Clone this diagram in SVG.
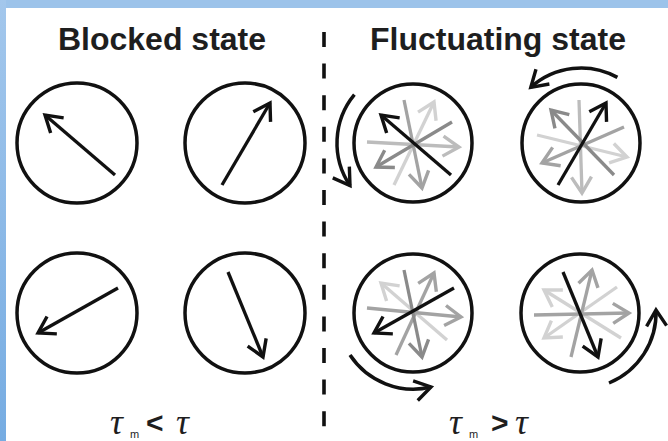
<svg xmlns="http://www.w3.org/2000/svg" width="668" height="441" viewBox="0 0 668 441">
  <defs>
    <linearGradient id="frameLeft" x1="0" y1="0" x2="0" y2="1">
      <stop offset="0" stop-color="#a3c7ec"/>
      <stop offset="1" stop-color="#76ace2"/>
    </linearGradient>
    <marker id="ah-k" viewBox="0 0 22 24" refX="18" refY="12" markerWidth="22" markerHeight="24" markerUnits="userSpaceOnUse" orient="auto" overflow="visible">
      <path d="M2,2 L18,12 L2,22" fill="none" stroke="#111" stroke-width="3.4"/>
    </marker>
    <marker id="ah-1" viewBox="0 0 22 24" refX="18" refY="12" markerWidth="22" markerHeight="24" markerUnits="userSpaceOnUse" orient="auto" overflow="visible">
      <path d="M2,2 L18,12 L2,22" fill="none" stroke="#8a8a8a" stroke-width="3.4"/>
    </marker>
    <marker id="ah-2" viewBox="0 0 22 24" refX="18" refY="12" markerWidth="22" markerHeight="24" markerUnits="userSpaceOnUse" orient="auto" overflow="visible">
      <path d="M2,2 L18,12 L2,22" fill="none" stroke="#a3a3a3" stroke-width="3.4"/>
    </marker>
    <marker id="ah-3" viewBox="0 0 22 24" refX="18" refY="12" markerWidth="22" markerHeight="24" markerUnits="userSpaceOnUse" orient="auto" overflow="visible">
      <path d="M2,2 L18,12 L2,22" fill="none" stroke="#bcbcbc" stroke-width="3.4"/>
    </marker>
    <marker id="ah-4" viewBox="0 0 22 24" refX="18" refY="12" markerWidth="22" markerHeight="24" markerUnits="userSpaceOnUse" orient="auto" overflow="visible">
      <path d="M2,2 L18,12 L2,22" fill="none" stroke="#d2d2d2" stroke-width="3.4"/>
    </marker>
  </defs>
  <style>
    .title { font-family: "Liberation Sans", Arial, sans-serif; font-weight: bold; font-size: 32px; fill: #1e1e1e; text-anchor: middle; }
    .tau { font-family: "Liberation Serif", "Times New Roman", serif; font-style: italic; font-size: 36px; fill: #1e1e1e; }
    .sub { font-family: "Liberation Sans", Arial, sans-serif; font-size: 11px; fill: #1e1e1e; }
    .rel { font-family: "Liberation Sans", Arial, sans-serif; font-weight: bold; font-size: 30px; fill: #1e1e1e; }
    .ring { fill: none; stroke: #111; stroke-width: 3.5; }
    .spin { fill: none; stroke-width: 3.3; }
    .k { stroke: #111; marker-end: url(#ah-k); }
    .g1 { stroke: #8a8a8a; marker-end: url(#ah-1); }
    .g2 { stroke: #a3a3a3; marker-end: url(#ah-2); }
    .g3 { stroke: #bcbcbc; marker-end: url(#ah-3); }
    .g4 { stroke: #d2d2d2; marker-end: url(#ah-4); }
    .rot { fill: none; stroke: #111; stroke-width: 3.5; marker-end: url(#ah-k); }
  </style>

  <!-- page background with blue frame on top and left -->
  <rect x="0" y="0" width="668" height="441" fill="#ffffff"/>
  <rect x="0" y="0" width="668" height="8" fill="#9cc3ea"/>
  <rect x="0" y="0" width="6" height="441" fill="url(#frameLeft)"/>

  <!-- headings -->
  <text class="title" x="162" y="50">Blocked state</text>
  <text class="title" x="498" y="50">Fluctuating state</text>

  <!-- separator -->
  <line x1="324" y1="32" x2="324" y2="441" stroke="#111" stroke-width="3.6" stroke-dasharray="15 16.6"/>

  <!-- blocked state: fixed moments -->
  <g id="blocked-1">
    <circle class="ring" cx="77" cy="143" r="60"/>
    <path class="spin k" d="M115,175 L45,115"/>
  </g>
  <g id="blocked-2">
    <circle class="ring" cx="245" cy="143" r="60"/>
    <path class="spin k" d="M222,185 L270,103"/>
  </g>
  <g id="blocked-3">
    <circle class="ring" cx="77" cy="313" r="60"/>
    <path class="spin k" d="M118,288 L38,333"/>
  </g>
  <g id="blocked-4">
    <circle class="ring" cx="245" cy="313" r="60"/>
    <path class="spin k" d="M228,272 L263,357"/>
  </g>

  <!-- fluctuating state: moments wandering over time -->
  <g id="fluct-1">
    <circle class="ring" cx="413" cy="143" r="59"/>
    <path class="spin g4" d="M394,185 L434,102"/>
    <path class="spin g3" d="M367,142 L459,147"/>
    <path class="spin g2" d="M404,100 L422,188"/>
    <path class="spin g1" d="M452,122 L376,167"/>
    <path class="spin k" d="M451,175 L381,115"/>
  </g>
  <g id="fluct-2">
    <circle class="ring" cx="581" cy="143" r="59"/>
    <path class="spin g4" d="M537,135 L627,157"/>
    <path class="spin g3" d="M579,100 L582,193"/>
    <path class="spin g2" d="M624,127 L542,163"/>
    <path class="spin g1" d="M614,175 L551,110"/>
    <path class="spin k" d="M558,185 L606,103"/>
  </g>
  <g id="fluct-3">
    <circle class="ring" cx="413" cy="313" r="59"/>
    <path class="spin g4" d="M447,340 L381,283"/>
    <path class="spin g2" d="M396,355 L434,273"/>
    <path class="spin g2" d="M367,308 L461,317"/>
    <path class="spin g1" d="M404,270 L422,357"/>
    <path class="spin k" d="M454,288 L374,333"/>
  </g>
  <g id="fluct-4">
    <circle class="ring" cx="580" cy="313" r="59"/>
    <path class="spin g4" d="M621,338 L544,290"/>
    <path class="spin g4" d="M617,287 L544,338"/>
    <path class="spin g2" d="M571,357 L592,270"/>
    <path class="spin g2" d="M534,315 L629,313"/>
    <path class="spin k" d="M563,272 L598,357"/>
  </g>

  <!-- rotation arrows around the fluctuating moments -->
  <g id="rotations">
    <path class="rot" d="M354.4,94.6 A76,76 0 0 0 350,185.5"/>
    <path class="rot" d="M617.4,77.4 A75,75 0 0 0 530.8,87.3"/>
    <path class="rot" d="M350,355 A76,76 0 0 0 431,387"/>
    <path class="rot" d="M609,383 A76,76 0 0 0 656,310"/>
  </g>

  <!-- time-scale conditions -->
  <text x="110" y="434"><tspan class="tau">τ</tspan><tspan class="sub" x="130" y="438">m</tspan><tspan class="rel" x="146" y="433">&lt;</tspan><tspan class="tau" x="176" y="434">τ</tspan></text>
  <text x="449" y="434"><tspan class="tau">τ</tspan><tspan class="sub" x="469" y="438">m</tspan><tspan class="rel" x="491" y="433">&gt;</tspan><tspan class="tau" x="515" y="434">τ</tspan></text>
</svg>
